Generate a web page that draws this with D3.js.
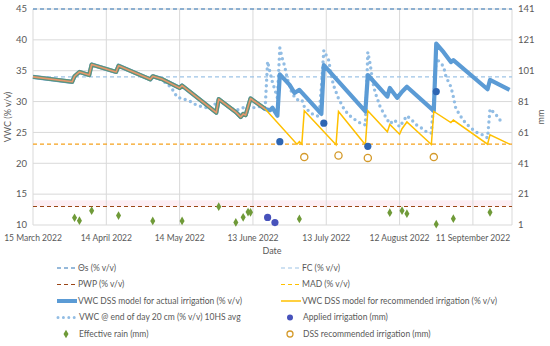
<!doctype html>
<html lang="en">
<head>
<meta charset="utf-8">
<title>VWC DSS model</title>
<style>
  body { margin: 0; background: #fff; }
  svg text { font-family: Lato, "Open Sans", sans-serif; fill: #595959; }
</style>
</head>
<body>
<script src="https://cdn.jsdelivr.net/npm/d3@7"></script>
<script>
  // thresholds (% v/v)
  var thetaS = 45, fieldCap = 34, pwp = 13, mad = 23.1;

  // axis ticks
  var xTickDates = ["2022-03-15","2022-04-14","2022-05-14","2022-06-13","2022-07-13","2022-08-12","2022-09-11"];
  var yTicks  = [10, 15, 20, 25, 30, 35, 40, 45];
  var y2Ticks = [1, 21, 41, 61, 81, 101, 121, 141];

  // model VWC, identical for both runs until mid June
  var sharedModel = [
    ["2022-03-15",34.0],["2022-03-31",33.2],["2022-04-01",34.1],["2022-04-03",34.8],["2022-04-07",34.3],
    ["2022-04-08",36.0],["2022-04-18",34.8],["2022-04-19",35.8],["2022-05-02",33.6],["2022-05-03",34.1],
    ["2022-05-07",33.6],["2022-05-14",32.2],["2022-05-15",32.6],["2022-05-29",28.2],["2022-05-30",30.4],
    ["2022-06-06",28.3],["2022-06-08",27.5],["2022-06-09",28.0],["2022-06-10",27.8],["2022-06-12",30.5],
    ["2022-06-18",28.8]
  ];
  var actualTail = [
    ["2022-06-20",28.6],["2022-06-21",29.0],["2022-06-23",27.7],["2022-06-24",34.4],["2022-06-28",32.7],
    ["2022-06-30",31.4],["2022-07-02",31.9],["2022-07-11",28.0],["2022-07-12",35.9],["2022-07-29",28.4],
    ["2022-07-30",34.3],["2022-08-07",30.8],["2022-08-08",32.2],["2022-08-11",30.6],["2022-08-13",31.6],
    ["2022-08-15",32.4],["2022-08-26",28.5],["2022-08-27",39.4],["2022-08-30",38.0],["2022-09-02",36.4],
    ["2022-09-03",36.7],["2022-09-17",32.0],["2022-09-18",33.5],["2022-09-26",31.9]
  ];
  var recommendedTail = [
    ["2022-07-01",23.1],["2022-07-02",23.5],["2022-07-03",23.1],["2022-07-04",28.5],["2022-07-17",23.0],
    ["2022-07-18",28.4],["2022-07-29",23.0],["2022-07-30",28.5],["2022-08-07",25.1],["2022-08-08",26.3],
    ["2022-08-12",24.7],["2022-08-13",25.6],["2022-08-15",26.7],["2022-08-25",23.05],["2022-08-26",28.4],
    ["2022-09-02",26.6],["2022-09-03",27.0],["2022-09-17",23.1],["2022-09-18",24.6],["2022-09-26",23.1]
  ];

  // measured VWC @ 20 cm (10HS avg)
  var measuredVwc = [
    ["2022-05-06",33.6],["2022-05-09",32.9],["2022-05-11",32.0],["2022-05-13",30.7],["2022-05-15",30.5],
    ["2022-05-18",30.1],["2022-05-21",29.4],["2022-05-24",29.1],["2022-05-27",28.9],["2022-05-30",30.3],
    ["2022-06-02",29.4],["2022-06-04",28.9],["2022-06-06",28.6],["2022-06-08",28.8],["2022-06-10",29.2],
    ["2022-06-13",29.0],["2022-06-16",29.2],["2022-06-18",29.0],["2022-06-19",36.5],["2022-06-20",34.7],
    ["2022-06-21",33.1],["2022-06-22",31.9],["2022-06-23",30.6],["2022-06-24",38.7],["2022-06-25",37.0],
    ["2022-06-26",35.7],["2022-06-27",33.8],["2022-06-28",32.5],["2022-06-29",31.3],["2022-07-01",30.3],
    ["2022-07-03",30.3],["2022-07-04",29.2],["2022-07-06",28.4],["2022-07-08",27.8],["2022-07-10",27.6],
    ["2022-07-11",32.4],["2022-07-12",38.3],["2022-07-14",36.7],["2022-07-15",34.3],["2022-07-16",32.6],
    ["2022-07-18",30.5],["2022-07-20",29.0],["2022-07-22",27.9],["2022-07-25",27.0],["2022-07-27",26.5],
    ["2022-07-29",26.2],["2022-07-30",38.0],["2022-07-31",36.0],["2022-08-01",33.2],["2022-08-02",31.5],
    ["2022-08-04",29.2],["2022-08-06",27.7],["2022-08-08",26.4],["2022-08-10",27.0],["2022-08-12",25.9],
    ["2022-08-13",26.5],["2022-08-15",27.7],["2022-08-17",27.0],["2022-08-19",26.2],["2022-08-21",25.7],
    ["2022-08-23",25.1],["2022-08-25",24.9],["2022-08-26",30.5],["2022-08-27",37.0],["2022-08-30",35.7],
    ["2022-08-31",34.0],["2022-09-02",32.4],["2022-09-03",30.8],["2022-09-04",28.9],["2022-09-06",27.6],
    ["2022-09-08",26.5],["2022-09-10",25.8],["2022-09-12",25.1],["2022-09-15",24.6],["2022-09-17",24.1],
    ["2022-09-18",28.8],["2022-09-20",28.1],["2022-09-22",27.1],["2022-09-23",26.2]
  ];

  // mm, right axis
  var appliedIrrigation = [
    ["2022-06-19",5.9],["2022-06-22",2.6],["2022-06-24",55],["2022-07-12",67],["2022-07-30",52],["2022-08-27",87.5]
  ];
  var recommendedIrrigation = [
    ["2022-07-04",45],["2022-07-18",46],["2022-07-30",44.5],["2022-08-26",45]
  ];
  var effectiveRain = [
    ["2022-04-01",5.7],["2022-04-03",3.8],["2022-04-08",10.3],["2022-04-19",7.1],["2022-05-03",3.6],
    ["2022-05-15",3.6],["2022-05-30",12.9],["2022-06-06",2.7],["2022-06-09",6.0],["2022-06-11",9.4],
    ["2022-06-12",9.2],["2022-07-02",4.9],["2022-08-08",9.0],["2022-08-13",10.3],["2022-08-15",8.3],
    ["2022-08-27",1.5],["2022-09-03",5.1],["2022-09-18",9.2]
  ];

  var parse = d3.timeParse("%Y-%m-%d");
  var c = {
    thetaS: "#2e75b6", fc: "#9dc3e6", pwp: "#9a4516", mad: "#f5a11c",
    actual: "#5b9bd5", rec: "#ffc000", dots: "#92bde4",
    applied: "#2e66b3", appliedSmall: "#4752bb", rain: "#6f9a38", recIrr: "#d49a2a"
  };

  var W = 550, H = 346;
  var svg = d3.select("body").append("svg").attr("width", W).attr("height", H);

  var x = d3.scaleTime()
    .domain([parse("2022-03-15"), parse("2022-09-27")])
    .range([33, 512]);
  var y = d3.scaleLinear().domain([10, 45]).range([225, 9]);
  var y2 = d3.scaleLinear().domain([1, 141]).range([225, 9]);

  // faint band above PWP
  svg.append("rect")
    .attr("x", x.range()[0]).attr("width", x.range()[1] - x.range()[0])
    .attr("y", y(14)).attr("height", y(13) - y(14))
    .attr("fill", "#fdeff4");

  // grid
  svg.append("g").selectAll("line").data(yTicks).enter().append("line")
    .attr("x1", 33).attr("x2", 512)
    .attr("y1", function(d){ return y(d); }).attr("y2", function(d){ return y(d); })
    .attr("stroke", "#d9d9d9").attr("stroke-width", 1);
  svg.append("g").selectAll("line").data(xTickDates.concat(["2022-09-27"])).enter().append("line")
    .attr("x1", function(d){ return x(parse(d)); }).attr("x2", function(d){ return x(parse(d)); })
    .attr("y1", 9).attr("y2", 225)
    .attr("stroke", "#d9d9d9").attr("stroke-width", 1);

  // tick labels
  svg.append("g").selectAll("text").data(yTicks).enter().append("text")
    .attr("x", 27).attr("y", function(d){ return y(d); }).attr("dy", "0.35em")
    .attr("text-anchor", "end").attr("font-size", 9.5).text(function(d){ return d; });
  svg.append("g").selectAll("text").data(y2Ticks).enter().append("text")
    .attr("x", 518).attr("y", function(d){ return y2(d); }).attr("dy", "0.35em")
    .attr("font-size", 9.5).text(function(d){ return d; });
  svg.append("g").selectAll("text").data(xTickDates).enter().append("text")
    .attr("x", function(d){ return x(parse(d)); }).attr("y", 241)
    .attr("text-anchor", "middle").attr("font-size", 8.5)
    .text(function(d){ return d3.timeFormat("%-d %B %Y")(parse(d)); });

  svg.append("text").attr("x", 272).attr("y", 254).attr("text-anchor", "middle")
    .attr("font-size", 9).text("Date");
  svg.append("text").attr("transform", "translate(11,117) rotate(-90)")
    .attr("text-anchor", "middle").attr("font-size", 9).text("VWC (% v/v)");
  svg.append("text").attr("transform", "translate(544,117) rotate(-90)")
    .attr("text-anchor", "middle").attr("font-size", 9).text("mm");

  // threshold lines
  function hline(v, color) {
    svg.append("line").attr("x1", 33).attr("x2", 512)
      .attr("y1", y(v)).attr("y2", y(v))
      .attr("stroke", color).attr("stroke-width", 1.2).attr("stroke-dasharray", "4,3");
  }
  hline(thetaS, c.thetaS);
  hline(fieldCap, c.fc);
  hline(pwp, c.pwp);
  hline(mad, c.mad);

  var line = d3.line()
    .x(function(d){ return x(parse(d[0])); })
    .y(function(d){ return y(d[1]); });

  // measured dots
  svg.append("path").datum(measuredVwc).attr("d", line)
    .attr("fill", "none").attr("stroke", c.dots).attr("stroke-width", 3.4)
    .attr("stroke-linecap", "round").attr("stroke-dasharray", "0,5.6");

  // model runs
  svg.append("path").datum(sharedModel.concat(actualTail)).attr("d", line)
    .attr("fill", "none").attr("stroke", c.actual).attr("stroke-width", 4.2)
    .attr("stroke-linejoin", "round");
  svg.append("path").datum(sharedModel.slice(-1).concat(recommendedTail)).attr("d", line)
    .attr("fill", "none").attr("stroke", c.rec).attr("stroke-width", 1.5);

  // where both runs overlap the two lines blend
  svg.append("path").datum(sharedModel).attr("d", line)
    .attr("fill", "none").attr("stroke", "#5d9478").attr("stroke-width", 4)
    .attr("stroke-linejoin", "round");
  svg.append("path").datum(sharedModel).attr("d", line)
    .attr("fill", "none").attr("stroke", "#e6976d").attr("stroke-width", 1.6)
    .attr("stroke-linejoin", "round");

  // markers on the mm axis
  svg.append("g").selectAll("circle").data(appliedIrrigation).enter().append("circle")
    .attr("cx", function(d){ return x(parse(d[0])); })
    .attr("cy", function(d){ return y2(d[1]); })
    .attr("r", 3.6).attr("fill", function(d){ return d[1] < 10 ? c.appliedSmall : c.applied; });
  svg.append("g").selectAll("circle").data(recommendedIrrigation).enter().append("circle")
    .attr("cx", function(d){ return x(parse(d[0])); })
    .attr("cy", function(d){ return y2(d[1]); })
    .attr("r", 3.6).attr("fill", "none").attr("stroke", c.recIrr).attr("stroke-width", 1.3);
  var diamond = d3.symbol().type(d3.symbolDiamond).size(22);
  svg.append("g").selectAll("path").data(effectiveRain).enter().append("path")
    .attr("d", diamond)
    .attr("transform", function(d){ return "translate(" + x(parse(d[0])) + "," + y2(d[1]) + ")"; })
    .attr("fill", c.rain);

  // legend
  var legendItems = [
    {label: "\u0398s (% v/v)", kind: "dash", color: c.thetaS, col: 0, row: 0},
    {label: "FC (% v/v)", kind: "dash", color: c.fc, col: 1, row: 0},
    {label: "PWP (% v/v)", kind: "dash", color: c.pwp, col: 0, row: 1},
    {label: "MAD (% v/v)", kind: "dash", color: c.rec, col: 1, row: 1},
    {label: "VWC DSS model for actual irrigation (% v/v)", kind: "thick", color: c.actual, col: 0, row: 2},
    {label: "VWC DSS model for recommended irrigation (% v/v)", kind: "thin", color: c.rec, col: 1, row: 2},
    {label: "VWC @ end of day 20 cm (% v/v) 10HS avg", kind: "dots", color: c.dots, col: 0, row: 3},
    {label: "Applied irrigation (mm)", kind: "dot", color: c.appliedSmall, col: 1, row: 3},
    {label: "Effective rain (mm)", kind: "diamond", color: c.rain, col: 0, row: 4},
    {label: "DSS recommended irrigation (mm)", kind: "ring", color: c.recIrr, col: 1, row: 4}
  ];
  var colX = [57, 281], rowY = [268, 284.5, 301, 317.5, 334];

  var leg = svg.append("g").selectAll("g").data(legendItems).enter().append("g")
    .attr("transform", function(d){ return "translate(" + colX[d.col] + "," + rowY[d.row] + ")"; });

  leg.each(function(d){
    var g = d3.select(this);
    if (d.kind === "dash" || d.kind === "thick" || d.kind === "thin" || d.kind === "dots") {
      var ln = g.append("line").attr("x1", 0).attr("x2", 20).attr("y1", 0).attr("y2", 0)
        .attr("stroke", d.color);
      if (d.kind === "dash") ln.attr("stroke-width", 1.2).attr("stroke-dasharray", "4,3");
      if (d.kind === "thick") ln.attr("stroke-width", 4);
      if (d.kind === "thin") ln.attr("stroke-width", 1.5);
      if (d.kind === "dots") ln.attr("x1", 1).attr("stroke-width", 3)
        .attr("stroke-linecap", "round").attr("stroke-dasharray", "0,5.4");
    } else if (d.kind === "dot") {
      g.append("circle").attr("cx", 9).attr("r", 3).attr("fill", d.color);
    } else if (d.kind === "ring") {
      g.append("circle").attr("cx", 9).attr("r", 3).attr("fill", "none")
        .attr("stroke", d.color).attr("stroke-width", 1.3);
    } else {
      g.append("path").attr("d", diamond).attr("transform", "translate(9,0)").attr("fill", d.color);
    }
    g.append("text").attr("x", d.kind === "dash" || d.kind === "thick" || d.kind === "thin" ? 21 : 22)
      .attr("dy", "0.35em").attr("font-size", 8.5).text(d.label);
  });
</script>
</body>
</html>
